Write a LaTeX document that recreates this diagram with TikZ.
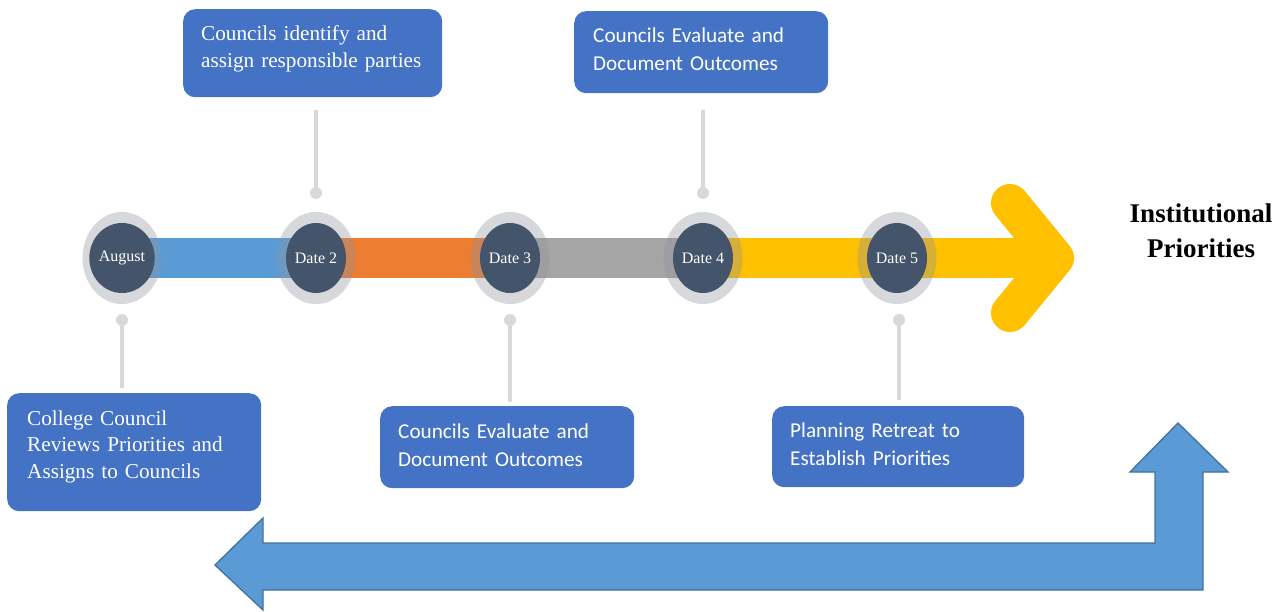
\documentclass[tikz,border=0pt]{standalone}
\usepackage{fontspec}
\setmainfont{Liberation Serif}
\newfontfamily\calib{Carlito}
\usetikzlibrary{shapes.geometric}
\definecolor{boxblue}{HTML}{4472C4}
\definecolor{barblue}{HTML}{5B9BD5}
\definecolor{barorange}{HTML}{ED7D31}
\definecolor{bargray}{HTML}{A5A5A5}
\definecolor{baryellow}{HTML}{FFC000}
\definecolor{darkslate}{HTML}{44546A}
\definecolor{ringgray}{HTML}{8E939E}
\definecolor{connGray}{HTML}{D9D9D9}
\definecolor{arrowedge}{HTML}{41719C}
\tikzset{
  boxshape/.style={fill=boxblue, rounded corners=12pt, inner sep=0pt, anchor=north west},
  serifbox/.style={text=white, inner sep=0pt, anchor=base west, align=left,
    font=\fontsize{21.2pt}{26.5pt}\selectfont},
  sansbox/.style={text=white, inner sep=0pt, anchor=base west, align=left,
    font=\calib\fontsize{21.2pt}{28pt}\selectfont},
  ring/.style={ellipse, fill=ringgray, fill opacity=0.36, minimum width=79pt, minimum height=92pt, inner sep=0pt},
  datenode/.style={ellipse, fill=darkslate, text=white, minimum width=60pt, minimum height=70pt, inner sep=0pt,
    font=\fontsize{16pt}{18pt}\selectfont},
  bar/.style={line width=40pt},
  conn/.style={draw=connGray, line width=4pt},
  dotnode/.style={circle, fill=connGray, minimum size=12pt, inner sep=0pt},
}
\begin{document}
\begin{tikzpicture}[x=1pt,y=-1pt]
\useasboundingbox (0,0) rectangle (1287,612);
% anchor coordinates of the timeline
\coordinate (p1) at (122,258);
\coordinate (p2) at (316,258);
\coordinate (p3) at (510,258);
\coordinate (p4) at (703,258);
\coordinate (p5) at (897,258);
\coordinate (tipv) at (1055,258);
% bars
\draw[bar, barblue] (p1) -- (p2);
\draw[bar, barorange] (p2) -- (p3);
\draw[bar, bargray] (p3) -- (p4);
\draw[bar, baryellow] (p4) -- (tipv);
\draw[baryellow, line width=38pt, line cap=round, line join=round] (1010,203) -- (tipv) -- (1010,313);
% rings
\foreach \i in {1,...,5} { \node[ring] (r\i) at (p\i) {}; }
% date nodes
\node[datenode] (c1) at (p1) {August};
\node[datenode] (c2) at (p2) {Date 2};
\node[datenode] (c3) at (p3) {Date 3};
\node[datenode] (c4) at (p4) {Date 4};
\node[datenode] (c5) at (p5) {Date 5};
% connectors
\node[dotnode] (d1) at (122,320) {};
\node[dotnode] (d2) at (316,193) {};
\node[dotnode] (d3) at (510,320) {};
\node[dotnode] (d4) at (703,193) {};
\node[dotnode] (d5) at (899,320) {};
\coordinate (e1) at (122,388);
\coordinate (e2) at (316,110);
\coordinate (e3) at (510,402);
\coordinate (e4) at (703,110);
\coordinate (e5) at (899,400);
\foreach \i in {1,...,5} { \draw[conn] (d\i.center) -- (e\i); }
% boxes
\node[boxshape, minimum width=259pt, minimum height=88pt] (b2) at (183,9) {};
\node[serifbox, text width=240pt] (t2) at (201,41) {Councils identify and\\assign responsible parties};
\node[boxshape, minimum width=254pt, minimum height=82pt] (b4) at (574,11) {};
\node[sansbox, text width=230pt] (t4) at (593,43) {Councils Evaluate and\\Document Outcomes};
\node[boxshape, minimum width=254pt, minimum height=118pt] (b1) at (7,393) {};
\node[serifbox, text width=230pt] (t1) at (27,425) {College Council\\Reviews Priorities and\\Assigns to Councils};
\node[boxshape, minimum width=254pt, minimum height=82pt] (b3) at (380,406) {};
\node[sansbox, text width=230pt] (t3) at (398,438) {Councils Evaluate and\\Document Outcomes};
\node[boxshape, minimum width=252pt, minimum height=81pt] (b5) at (772,406) {};
\node[sansbox, text width=230pt] (t5) at (790,437) {Planning Retreat to\\Establish Priorities};
% title
\node[font=\bfseries\fontsize{27pt}{35pt}\selectfont, text width=200pt, align=center, anchor=base, inner sep=0pt] (goal) at (1201,223) {Institutional\\Priorities};
% bent return arrow
\draw[fill=barblue, draw=arrowedge, line width=1.3pt, line join=miter]
  (1178,423) -- (1228,472) -- (1203,472) -- (1203,590) -- (263,590) -- (263,610)
  -- (215,565) -- (263,518) -- (263,543) -- (1155,543) -- (1155,472) -- (1130,472) -- cycle;
\end{tikzpicture}
\end{document}
